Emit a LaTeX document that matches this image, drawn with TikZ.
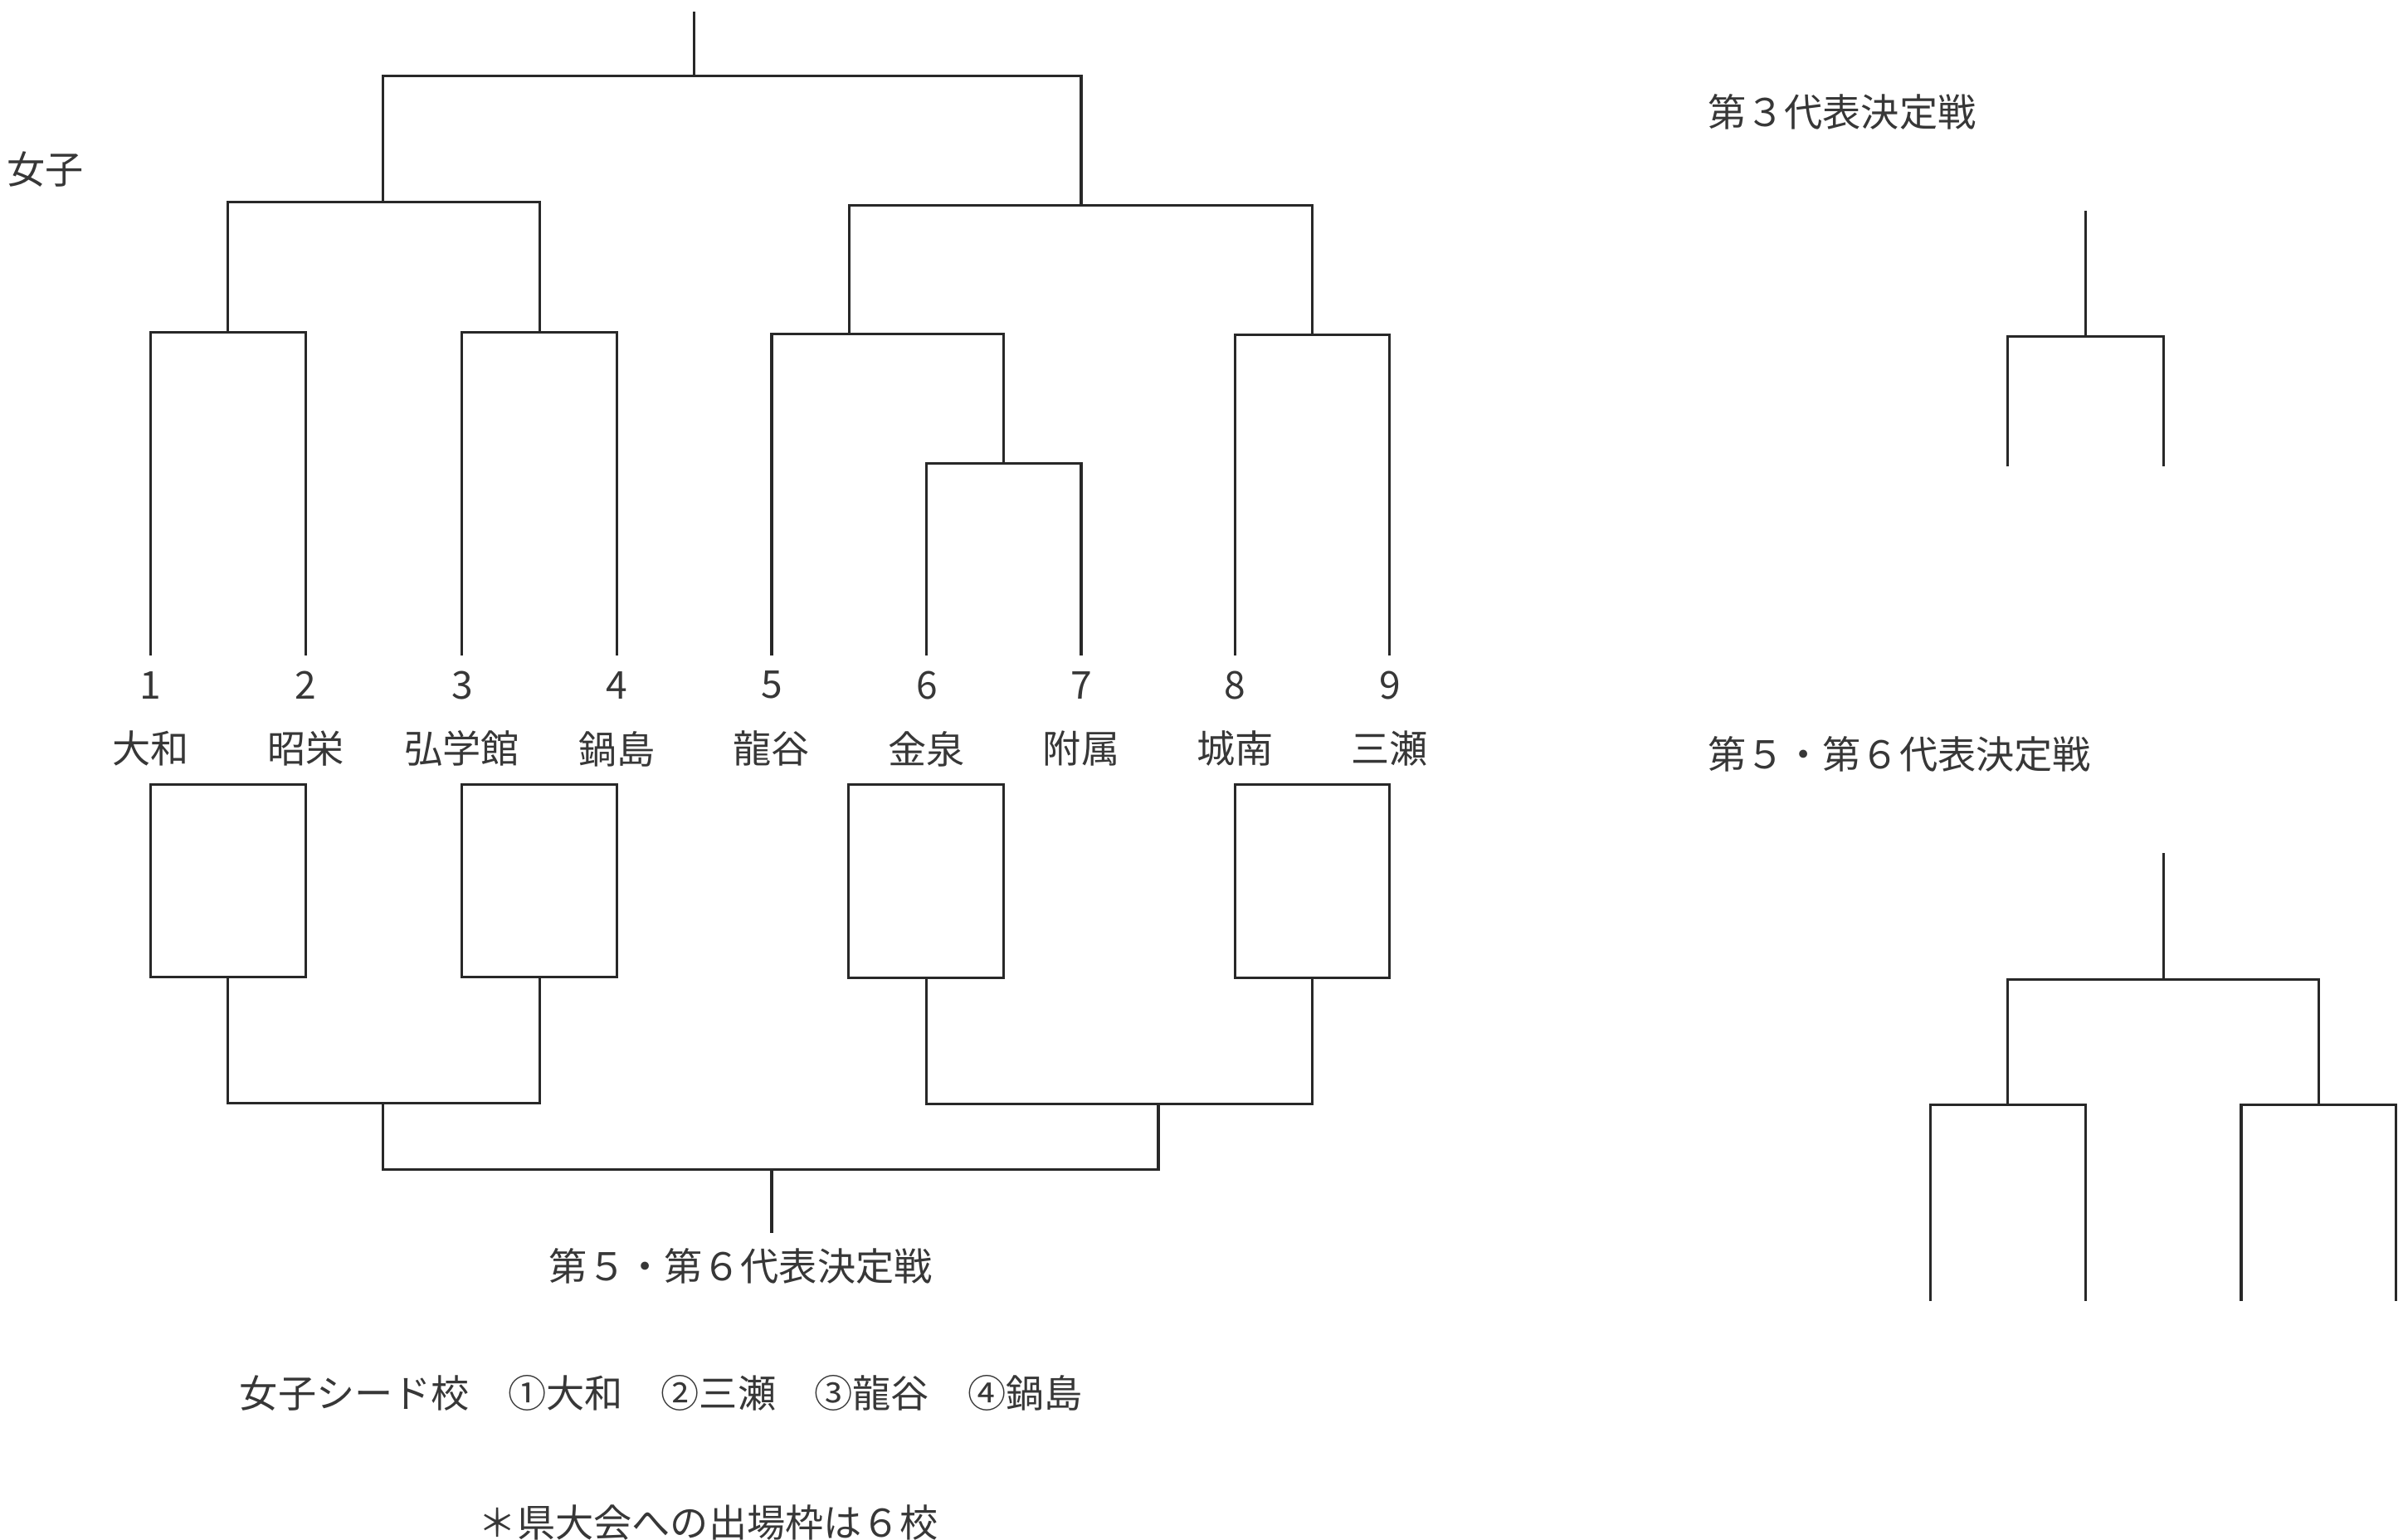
\documentclass[tikz,border=0pt]{standalone}
\usepackage{fontspec}
\setmainfont{Noto Sans CJK JP}
\definecolor{ink}{RGB}{40,40,40}
\definecolor{txt}{RGB}{55,55,55}
\begin{document}
\begin{tikzpicture}[x=0.5pt,y=-0.5pt,
  br/.style={draw=ink,line width=0.85pt,line join=miter},
  lbl/.style={text=txt,inner sep=0pt,font=\fontsize{12.5pt}{15pt}\selectfont},
  lblw/.style={lbl,anchor=west}]
\useasboundingbox (0,0) rectangle (1568,1004.9);
% leaves
\foreach \i/\x in {1/98.4,2/199.6,3/301.5,4/402.5,5/503.5,6/604.7,7/705.5,8/805.8,9/906.8}{
  \coordinate (l\i) at (\x,427.5);
}
% number and school labels
\node[lbl] (n1) at (98.4,447) {1};
\node[lbl] (n2) at (199.6,447) {2};
\node[lbl] (n3) at (301.5,447) {3};
\node[lbl] (n4) at (402.5,447) {4};
\node[lbl] (n5) at (503.5,447) {5};
\node[lbl] (n6) at (604.7,447) {6};
\node[lbl] (n7) at (705.5,447) {7};
\node[lbl] (n8) at (805.8,447) {8};
\node[lbl] (n9) at (906.8,447) {9};
\node[lbl] (s1) at (98.4,488.6) {大和};
\node[lbl] (s2) at (199.6,488.6) {昭栄};
\node[lbl] (s3) at (301.5,488.6) {弘学館};
\node[lbl] (s4) at (402.5,488.6) {鍋島};
\node[lbl] (s5) at (503.5,488.6) {龍谷};
\node[lbl] (s6) at (604.7,488.6) {金泉};
\node[lbl] (s7) at (705.5,488.6) {附属};
\node[lbl] (s8) at (805.8,488.6) {城南};
\node[lbl] (s9) at (906.8,488.6) {三瀬};
% upper bracket joints
\coordinate (j12) at (148.8,217);
\coordinate (j34) at (352,217);
\coordinate (j67) at (655,302.5);
\coordinate (j567) at (554,218);
\coordinate (j89) at (856.3,218.5);
\coordinate (jA) at (250,132);
\coordinate (jB) at (705.5,134);
\coordinate (jT) at (453,49.5);
\coordinate (jTop) at (453,7.5);
\draw[br] (l1) |- (j12) -| (l2);
\draw[br] (l3) |- (j34) -| (l4);
\draw[br] (l6) |- (j67) -| (l7);
\draw[br] (l5) |- (j567) -| (j67);
\draw[br] (l8) |- (j89) -| (l9);
\draw[br] (j12) |- (jA) -| (j34);
\draw[br] (j567) |- (jB) -| (j89);
\draw[br] (jA) |- (jT) -| (jB);
\draw[br] (jT) -- (jTop);
% boxes (loser bracket)
\coordinate (b1a) at (98.4,512);   \coordinate (b1b) at (199.6,637.7);
\coordinate (b2a) at (301.5,512);  \coordinate (b2b) at (402.5,637.7);
\coordinate (b3a) at (553.6,512);  \coordinate (b3b) at (655,638);
\coordinate (b4a) at (805.8,512);  \coordinate (b4b) at (906.8,638);
\draw[br] (b1a) rectangle (b1b);
\draw[br] (b2a) rectangle (b2b);
\draw[br] (b3a) rectangle (b3b);
\draw[br] (b4a) rectangle (b4b);
\coordinate (q1) at (148.8,637.7);
\coordinate (q2) at (352,637.7);
\coordinate (q3) at (604.5,638);
\coordinate (q4) at (856.4,638);
\coordinate (k1) at (250,720);
\coordinate (k2) at (755.8,720.5);
\coordinate (k0) at (503.5,763);
\coordinate (kBot) at (503.5,804.5);
\draw[br] (q1) |- (k1) -| (q2);
\draw[br] (q3) |- (k2) -| (q4);
\draw[br] (k1) |- (k0) -| (k2);
\draw[br] (k0) -- (kBot);
% texts
\node[lblw] (girls) at (4,110.5) {女子};
\node[lblw] (t56a) at (358,826) {第５・第６代表決定戦};
\node[lblw] (seed) at (156,909) {女子シード校　①大和　②三瀬　③龍谷　④鍋島};
\node[lblw] (note) at (312,993.5) {＊県大会への出場枠は６校};
\node[lblw] (t3) at (1114,73) {第３代表決定戦};
\node[lblw] (t56b) at (1114,492) {第５・第６代表決定戦};
% right: 3rd place bracket
\coordinate (r3top) at (1361,137.5);
\coordinate (r3j) at (1361,219.5);
\coordinate (r3a) at (1310,304.5);
\coordinate (r3b) at (1411.8,304.5);
\draw[br] (r3a) |- (r3j) -| (r3b);
\draw[br] (r3j) -- (r3top);
% right: 5th/6th bracket
\coordinate (r5top) at (1411.8,556.6);
\coordinate (r5j) at (1411.8,639);
\coordinate (r5L) at (1310,721);
\coordinate (r5R) at (1513,721);
\coordinate (r5a) at (1259.6,848.8);
\coordinate (r5b) at (1361,848.8);
\coordinate (r5c) at (1462.4,848.8);
\coordinate (r5d) at (1563.6,848.8);
\draw[br] (r5L) |- (r5j) -| (r5R);
\draw[br] (r5j) -- (r5top);
\draw[br] (r5a) |- (r5L) -| (r5b);
\draw[br] (r5c) |- (r5R) -| (r5d);
\end{tikzpicture}
\end{document}
